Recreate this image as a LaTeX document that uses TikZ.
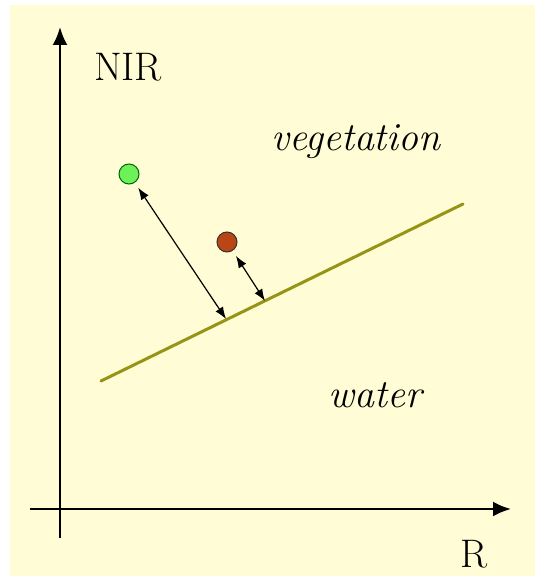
\documentclass[tikz,border=0pt]{standalone}
\usepackage{xcolor}
\usetikzlibrary{arrows.meta, positioning}

\definecolor{paper}{RGB}{255,252,214}
\definecolor{soilline}{RGB}{150,148,22}
\definecolor{leafgreen}{RGB}{110,240,90}
\definecolor{barebrown}{RGB}{185,70,20}

\begin{document}
\begin{tikzpicture}[
      x=1bp, y=-1bp,
      lbl/.style={font=\fontsize{40}{46}\selectfont, anchor=base},
      axis/.style={line width=2.5bp, -{Latex[length=18bp,width=15bp]}},
      dist/.style={line width=1.2bp, {Latex[length=12bp,width=9bp]}-{Latex[length=12bp,width=9bp]}, shorten <=6bp},
      pixel/.style={circle, line width=1bp, minimum size=20bp, inner sep=0pt}
    ]
    % Sfondo
    \useasboundingbox (0,0) rectangle (535,578);
    \fill[paper] (10,5) rectangle (535,576);

    % Assi
    \coordinate (ybot) at (60,538);
    \coordinate (ytop) at (60,27);
    \coordinate (xleft) at (30,509);
    \coordinate (xright) at (511,509);
    \draw[axis] (ybot) -- (ytop);
    \draw[axis] (xleft) -- (xright);
    \node[lbl] (nir) at (128,81) {NIR};
    \node[lbl] (rlab) at (474,567) {R};

    % Linea del suolo
    \coordinate (soilA) at (101,381);
    \coordinate (soilB) at (463,204);
    \draw[soilline, line width=3bp, line cap=round] (soilA) -- (soilB);

    % Regioni
    \node[lbl] (veg) at (356,151) {\itshape vegetation};
    \node[lbl] (wat) at (375,407) {\itshape water};

    % Pixel e distanze
    \node[pixel, draw=green!40!black, fill=leafgreen] (green) at (129,174) {};
    \node[pixel, draw=black!80, fill=barebrown] (brown) at (227,242) {};
    \coordinate (footG) at (226,319);
    \coordinate (footB) at (265,301);
    \draw[dist] (green) -- (footG);
    \draw[dist] (brown) -- (footB);
  \end{tikzpicture}
\end{document}
